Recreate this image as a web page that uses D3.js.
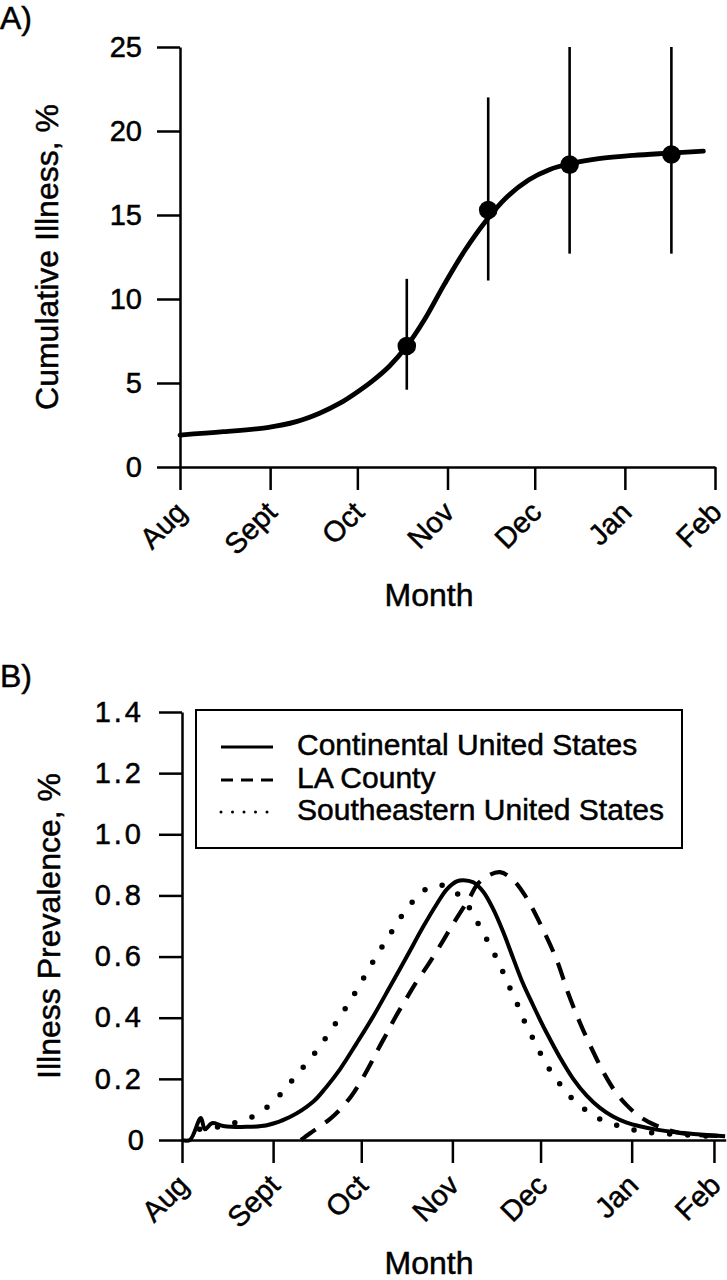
<!DOCTYPE html>
<html>
<head>
<meta charset="utf-8">
<script src="https://cdn.jsdelivr.net/npm/d3@7"></script>
<style>
  html, body { margin: 0; padding: 0; background: #fff; }
  svg { display: block; }
  text { font-family: "Liberation Sans", Arial, Helvetica, sans-serif; fill: #000; stroke: #000; stroke-width: 0.5px; }
</style>
</head>
<body>
<script>
// ---------- DATA ----------
const monthLabels = ["Aug", "Sept", "Oct", "Nov", "Dec", "Jan", "Feb"];
const topTickDays = [0, 31, 61, 92, 122, 153, 184];   // days since Aug 1
const botTickDays = [0, 31, 61, 92, 122, 153, 181];
const topYTicks = [0, 5, 10, 15, 20, 25];
const botYTicks = [0, 0.2, 0.4, 0.6, 0.8, 1.0, 1.2, 1.4];

// Panel A: survey estimates with intervals
const surveyDays  = [78, 106, 134, 169];
const surveyValue = [7.2, 15.3, 18.0, 18.6];
const surveyLow   = [4.6, 11.1, 12.7, 12.7];
const surveyHigh  = [11.2, 22.0, 25.0, 25.0];

// Panel A: fitted cumulative curve
const fitDays   = [0, 15, 30, 40, 48, 55, 60, 66, 72, 78, 84, 91, 98, 105, 112, 120, 127, 134, 144, 156, 168, 180];
const fitValues = [1.9, 2.1, 2.35, 2.7, 3.2, 3.8, 4.35, 5.1, 6.0, 7.2, 8.75, 10.9, 12.9, 14.6, 16.0, 17.1, 17.7, 18.05, 18.35, 18.55, 18.68, 18.8];

// Panel B: prevalence curves
const seriesNames = ["Continental United States", "LA County", "Southeastern United States"];

const contDays   = [0, 2.7, 6.4, 7.8, 10.2, 14, 22, 28.9, 36.7, 44.6, 49, 53.8, 59.4, 65.1, 70.8, 76.5, 82.1, 86.7, 90.1, 93.5, 95.7, 99.1, 102.5, 105.9, 109.3, 112.7, 116.1, 119.5, 122, 124.1, 128.6, 133.1, 137.7, 142.2, 146.8, 151.3, 155.8, 161.5, 167.2, 174, 184.8];
const contValues = [0, 0, 0.072, 0.035, 0.055, 0.046, 0.043, 0.048, 0.075, 0.125, 0.172, 0.232, 0.316, 0.405, 0.502, 0.600, 0.698, 0.772, 0.82, 0.846, 0.850, 0.843, 0.812, 0.755, 0.68, 0.594, 0.51, 0.44, 0.39, 0.35, 0.27, 0.2, 0.145, 0.105, 0.076, 0.057, 0.045, 0.034, 0.026, 0.02, 0.012];

const laDays   = [40.5, 43.6, 47, 50.5, 53.8, 57.7, 61.1, 64.5, 66.8, 70.2, 72.5, 76.5, 79.3, 83.3, 85.5, 88.9, 91.8, 95.2, 98, 100.4, 104, 108.2, 112.7, 116.7, 121.8, 127.5, 131.4, 136, 141.1, 143.9, 147.3, 151.3, 155.8, 160.9, 169.4, 183];
const laValues = [0, 0.022, 0.045, 0.07, 0.1, 0.145, 0.196, 0.255, 0.298, 0.358, 0.4, 0.465, 0.51, 0.567, 0.600, 0.653, 0.7, 0.752, 0.795, 0.835, 0.864, 0.876, 0.85, 0.80, 0.709, 0.589, 0.48, 0.37, 0.265, 0.213, 0.16, 0.114, 0.076, 0.049, 0.023, 0.013];

const seDays   = [6, 10, 14, 17.5, 23.1, 28.2, 32.6, 36.7, 40.7, 44.7, 48.1, 51.7, 55.1, 58.3, 61.2, 64.5, 67.6, 71, 74.2, 77.8, 82.1, 87.8, 93.2, 97.4, 100.3, 103.3, 106.2, 108.8, 111.3, 113.9, 116.1, 119, 121.6, 124.6, 128.3, 132, 136.5, 141.6, 147.7, 153.6, 159.2, 169.4, 183];
const seValues = [0.035, 0.04, 0.045, 0.055, 0.072, 0.102, 0.14, 0.186, 0.232, 0.278, 0.323, 0.373, 0.423, 0.472, 0.52, 0.575, 0.625, 0.676, 0.725, 0.772, 0.815, 0.834, 0.809, 0.765, 0.716, 0.663, 0.61, 0.558, 0.503, 0.449, 0.397, 0.340, 0.29, 0.238, 0.187, 0.143, 0.104, 0.071, 0.049, 0.033, 0.024, 0.018, 0.01];

// ---------- DRAW ----------
const W = 727, H = 1280;
const svg = d3.select("body").append("svg").attr("width", W).attr("height", H);

const TICK_FONT = 29, TITLE_FONT = 32, LEGEND_FONT = 30;
const tickLen = 23;

function styleAxis(g) {
  g.attr("font-family", null).attr("font-size", null);
  g.select(".domain").attr("stroke", "#000").attr("stroke-width", 2.5);
  g.selectAll(".tick line").attr("stroke", "#000").attr("stroke-width", 2.5);
  g.selectAll(".tick text").style("font-size", TICK_FONT + "px").attr("fill", "#000");
}

function monthAxis(g) {
  g.selectAll(".tick text")
    .attr("text-anchor", "end")
    .attr("x", -27.6).attr("y", 38.9).attr("dy", 0)
    .attr("transform", "rotate(-45)");
}

// ===== Panel A =====
const xA = d3.scaleLinear().domain([0, 184]).range([180, 715]);
const yA = d3.scaleLinear().domain([0, 25]).range([467, 47]);

svg.append("text").attr("x", 0).attr("y", 29).style("font-size", "32px").text("A)");

svg.append("g").attr("transform", `translate(0,${yA(0)})`)
  .call(d3.axisBottom(xA).tickValues(topTickDays).tickFormat((d, i) => monthLabels[i]).tickSize(tickLen).tickSizeOuter(0))
  .call(styleAxis).call(monthAxis);

svg.append("g").attr("transform", `translate(${xA(0)},0)`)
  .call(d3.axisLeft(yA).tickValues(topYTicks).tickFormat(d3.format("d")).tickSize(tickLen).tickSizeOuter(0).tickPadding(15))
  .call(styleAxis);

svg.append("text").attr("transform", `translate(58,${(yA(0) + yA(25)) / 2}) rotate(-90)`)
  .attr("text-anchor", "middle").style("font-size", TITLE_FONT + "px").text("Cumulative Illness, %");
svg.append("text").attr("x", 429).attr("y", 606).attr("text-anchor", "middle")
  .style("font-size", TITLE_FONT + "px").text("Month");

const fitData = fitDays.map((d, i) => [d, fitValues[i]]);
svg.append("path").datum(fitData)
  .attr("fill", "none").attr("stroke", "#000").attr("stroke-width", 4.8).attr("stroke-linecap", "round")
  .attr("d", d3.line().x(d => xA(d[0])).y(d => yA(d[1])).curve(d3.curveCatmullRom.alpha(0.5)));

const surveys = surveyDays.map((d, i) => ({ d, v: surveyValue[i], lo: surveyLow[i], hi: surveyHigh[i] }));
svg.append("g").selectAll("line").data(surveys).join("line")
  .attr("x1", s => xA(s.d)).attr("x2", s => xA(s.d))
  .attr("y1", s => yA(s.lo)).attr("y2", s => yA(s.hi))
  .attr("stroke", "#000").attr("stroke-width", 2.6);
svg.append("g").selectAll("circle").data(surveys).join("circle")
  .attr("cx", s => xA(s.d)).attr("cy", s => yA(s.v)).attr("r", 9.3).attr("fill", "#000");

// ===== Panel B =====
const xB = d3.scaleLinear().domain([0, 185]).range([182, 182 + 185 * 2.939]);
const yB = d3.scaleLinear().domain([0, 1.4]).range([1140, 712]);

svg.append("text").attr("x", 0).attr("y", 687).style("font-size", "32px").text("B)");

svg.append("g").attr("transform", `translate(0,${yB(0)})`)
  .call(d3.axisBottom(xB).tickValues(botTickDays).tickFormat((d, i) => monthLabels[i]).tickSize(tickLen).tickSizeOuter(0))
  .call(styleAxis).call(monthAxis);

svg.append("g").attr("transform", `translate(${xB(0)},0)`)
  .call(d3.axisLeft(yB).tickValues(botYTicks).tickFormat(d => d === 0 ? "0" : d3.format(".1f")(d)).tickSize(tickLen).tickSizeOuter(0).tickPadding(15))
  .call(styleAxis)
  .call(g => g.selectAll(".tick text").style("letter-spacing", d => d === 0 ? "0px" : "3px"));

svg.append("text").attr("transform", `translate(60,${(yB(0) + yB(1.4)) / 2}) rotate(-90)`)
  .attr("text-anchor", "middle").style("font-size", TITLE_FONT + "px").text("Illness Prevalence, %");
svg.append("text").attr("x", 429).attr("y", 1274).attr("text-anchor", "middle")
  .style("font-size", TITLE_FONT + "px").text("Month");

const styles = [
  { dash: null, width: 4, cap: "butt", legDash: null, legWidth: 3 },
  { dash: "18 12", width: 4.2, cap: "butt", legDash: "12 8", legWidth: 3 },
  { dash: "0 18", width: 5.5, cap: "round", legDash: "0 11.5", legWidth: 3 }
];
const seriesData = [
  contDays.map((d, i) => [d, contValues[i]]),
  laDays.map((d, i) => [d, laValues[i]]),
  seDays.map((d, i) => [d, seValues[i]])
];
const lineB = d3.line().x(d => xB(d[0])).y(d => yB(d[1])).curve(d3.curveCatmullRom.alpha(0.5));
seriesData.forEach((data, i) => {
  svg.append("path").datum(data)
    .attr("fill", "none").attr("stroke", "#000")
    .attr("stroke-width", styles[i].width)
    .attr("stroke-linecap", styles[i].cap)
    .attr("stroke-linejoin", "round")
    .attr("stroke-dasharray", styles[i].dash)
    .attr("d", lineB);
});

// Legend
const leg = svg.append("g");
leg.append("rect").attr("x", 196).attr("y", 710).attr("width", 486).attr("height", 138)
  .attr("fill", "#fff").attr("stroke", "#000").attr("stroke-width", 2);
const legY = [755, 788, 820];
seriesNames.forEach((name, i) => {
  leg.append("line").attr("x1", 221).attr("x2", 273).attr("y1", legY[i] - 8).attr("y2", legY[i] - 8)
    .attr("stroke", "#000").attr("stroke-width", styles[i].legWidth)
    .attr("stroke-linecap", styles[i].cap)
    .attr("stroke-dasharray", styles[i].legDash);
  leg.append("text").attr("x", 297).attr("y", legY[i]).style("font-size", LEGEND_FONT + "px").text(name);
});
</script>
</body>
</html>
